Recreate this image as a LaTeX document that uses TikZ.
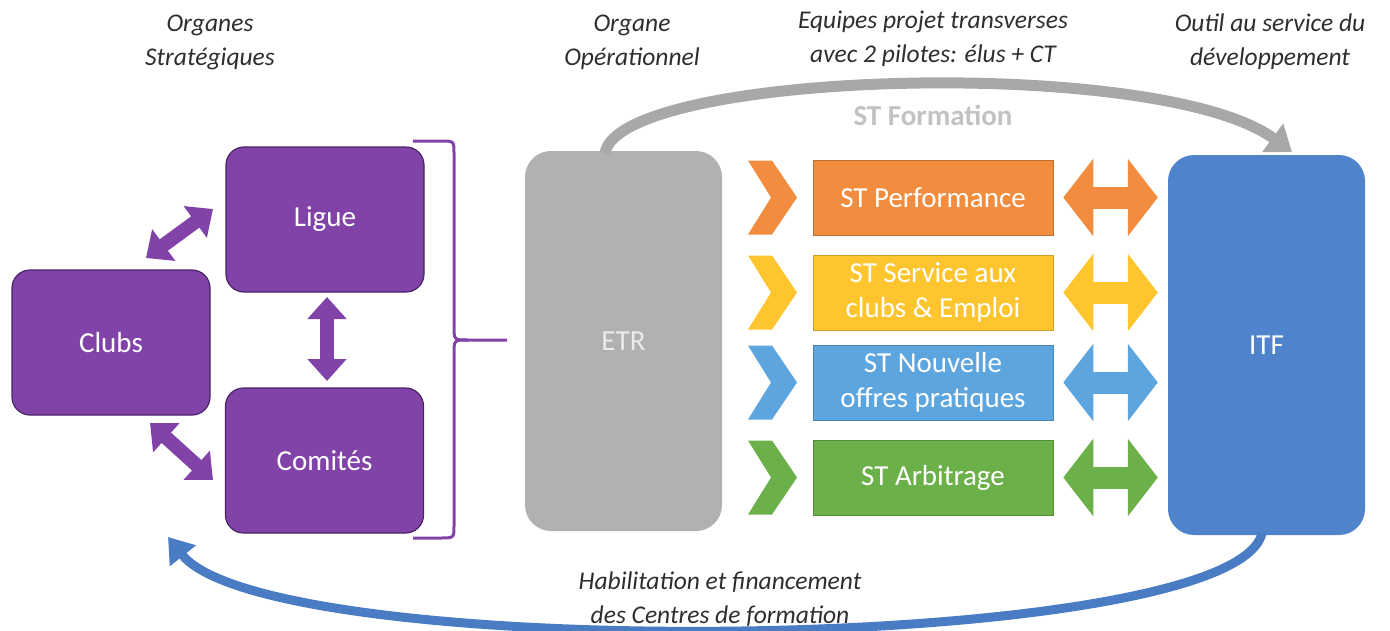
\documentclass[tikz,border=0pt]{standalone}
\usepackage{fontspec}
\setmainfont{Carlito}
\usetikzlibrary{arrows.meta}
\definecolor{purp}{HTML}{8243A9}
\definecolor{purpd}{HTML}{4A2366}
\definecolor{orng}{HTML}{F28C3F}
\definecolor{yell}{HTML}{FEC52E}
\definecolor{lblu}{HTML}{5DA5DE}
\definecolor{gren}{HTML}{6CB04A}
\definecolor{itfb}{HTML}{4F83CC}
\definecolor{etrg}{HTML}{B1B1B1}
\definecolor{arrg}{HTML}{A8A8A8}
\definecolor{arrb}{HTML}{4A7CC4}
\definecolor{headtxt}{HTML}{2E2E2E}
\tikzset{
  orgbox/.style={draw=purpd, line width=1.2pt, fill=purp, rounded corners=18pt, minimum width=198pt, minimum height=145pt, inner sep=0pt, text=white, font=\fontsize{29}{32}\selectfont},
  stbox/.style={fill=#1, draw=#1!80!black, line width=0.6pt, minimum width=240pt, minimum height=75pt, inner sep=0pt, text=white, align=center, font=\fontsize{29}{35}\selectfont},
  bigbox/.style={fill=#1, rounded corners=26pt, minimum width=197pt, minimum height=380pt, inner sep=0pt, text=white, font=\fontsize{29}{32}\selectfont},
  heading/.style={align=center, text=headtxt, font=\itshape\fontsize{25.5}{34}\selectfont},
  purparrow/.style={draw=purp, line width=14pt, {Triangle[width=38pt,length=22pt]}-{Triangle[width=38pt,length=22pt]}},
  colarrow/.style={draw=#1, line width=22pt, shorten <=10pt, shorten >=10pt, {Triangle[width=76pt,length=30pt]}-{Triangle[width=76pt,length=30pt]}},
}
\begin{document}
\begin{tikzpicture}[x=1pt,y=-1pt]
\useasboundingbox (0,0) rectangle (1390,630);

% headings
\node[heading] (h1) at (210,42) {Organes\\Stratégiques};
\node[heading] (h2) at (632,42) {Organe\\Opérationnel};
\node[heading] (h3) at (933,39) {Equipes projet transverses\\avec 2 pilotes: élus + CT};
\node[heading] (h4) at (1270,42) {Outil au service du\\développement};

% strategic organs
\node[orgbox] (ligue) at (325,219.5) {Ligue};
\node[orgbox] (clubs) at (111,342.5) {Clubs};
\node[orgbox] (comites) at (324.5,460.5) {Comités};

\coordinate (a1) at (146,258);
\coordinate (a2) at (213,209);
\coordinate (a3) at (327,297);
\coordinate (a4) at (327,381);
\coordinate (a5) at (150,423);
\coordinate (a6) at (213,480);
\draw[purparrow] (a1) -- (a2);
\draw[purparrow] (a3) -- (a4);
\draw[purparrow] (a5) -- (a6);

% brace
\coordinate (bt) at (413,141);
\coordinate (bb) at (413,538);
\coordinate (btip) at (507,340);
\draw[purp, line width=3pt, line join=round]
  (bt) -- (440,141) .. controls (454,141) .. (454,153) -- (454,326)
  .. controls (454,340) .. (468,340) -- (btip);
\draw[purp, line width=3pt, line join=round]
  (bb) -- (440,538) .. controls (454,538) .. (454,526) -- (454,354)
  .. controls (454,340) .. (468,340);

% ETR and ITF
\node[bigbox=etrg, text=white!92!black] (etr) at (623.5,341) {ETR};
\node[bigbox=itfb] (itf) at (1266.5,345) {ITF};

% ST boxes
\node[stbox=orng] (st1) at (933,197.5) {ST Performance};
\node[stbox=yell] (st2) at (933,292.5) {ST Service aux\\clubs \& Emploi};
\node[stbox=lblu] (st3) at (933,382.5) {ST Nouvelle\\offres pratiques};
\node[stbox=gren] (st4) at (933,477.5) {ST Arbitrage};

% chevrons
\foreach \c/\y in {orng/197.5, yell/292.5, lblu/382.5, gren/477.5}{
  \fill[\c] (748,\y-37) -- (772,\y-37) -- (797,\y) -- (772,\y+37) -- (748,\y+37) -- (771,\y) -- cycle;
}

% colored double arrows
\draw[colarrow=orng] (st1.east) -- (itf.west |- st1.east);
\draw[colarrow=yell] (st2.east) -- (itf.west |- st2.east);
\draw[colarrow=lblu] (st3.east) -- (itf.west |- st3.east);
\draw[colarrow=gren] (st4.east) -- (itf.west |- st4.east);

% top grey arrow
\coordinate (g1) at (605,153);
\coordinate (g2) at (1292,152);
\draw[arrg, line width=11pt, -{Triangle[width=34pt,length=24pt]}]
  (g1) .. controls (620,70) and (1160,55) .. (g2);
\node[text=black!24, font=\bfseries\fontsize{29}{32}\selectfont] (stf) at (933,115) {ST Formation};

% bottom blue arrow
\coordinate (b1) at (1262,533);
\coordinate (b2) at (168,537);
\draw[arrb, line width=9pt, -{Triangle[width=32pt,length=24pt]}]
  (b1) .. controls (1235,655) and (270,665) .. (b2);
\node[heading] (hab) at (720,599) {Habilitation et financement\\des Centres de formation};
\end{tikzpicture}
\end{document}
